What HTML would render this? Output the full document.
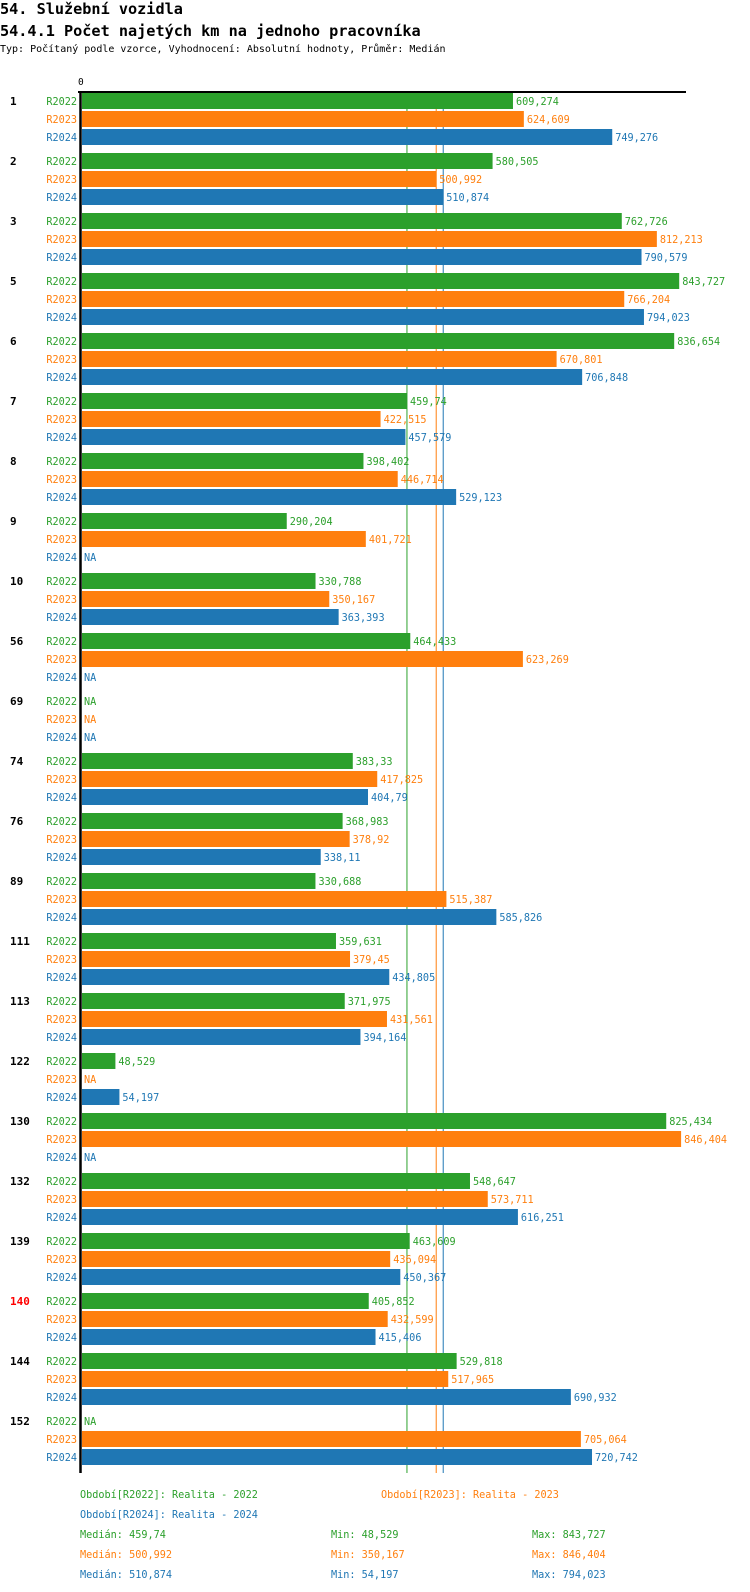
<!DOCTYPE html>
<html><head><meta charset="utf-8">
<style>
html,body{margin:0;padding:0;background:#fff;width:750px;height:1592px;overflow:hidden}
.t{position:absolute;white-space:nowrap;font-family:"DejaVu Sans Mono","Liberation Mono",monospace}
</style></head>
<body>
<div class="t" style="left:0;top:0px;font-size:15.2px;font-weight:bold">54. Služební vozidla</div>
<div class="t" style="left:0;top:22px;font-size:15.2px;font-weight:bold">54.4.1 Počet najetých km na jednoho pracovníka</div>
<div class="t" style="left:0;top:44px;font-size:10px">Typ: Počítaný podle vzorce, Vyhodnocení: Absolutní hodnoty, Průměr: Medián</div>
<svg id="chart" width="750" height="1592" style="position:absolute;left:0;top:0"></svg>
<script>
const groups=["1","2","3","5","6","7","8","9","10","56","69","74","76","89","111","113","122","130","132","139","140","144","152"];
const r2022=[609.274,580.505,762.726,843.727,836.654,459.74,398.402,290.204,330.788,464.433,null,383.33,368.983,330.688,359.631,371.975,48.529,825.434,548.647,463.609,405.852,529.818,null];
const r2023=[624.609,500.992,812.213,766.204,670.801,422.515,446.714,401.721,350.167,623.269,null,417.825,378.92,515.387,379.45,431.561,null,846.404,573.711,436.094,432.599,517.965,705.064];
const r2024=[749.276,510.874,790.579,794.023,706.848,457.579,529.123,null,363.393,null,null,404.79,338.11,585.826,434.805,394.164,54.197,null,616.251,450.367,415.406,690.932,720.742];
const seriesNames=["R2022","R2023","R2024"];
const colors=["#2ca02c","#ff7f0e","#1f77b4"];
const medians=[459.74,500.992,510.874];
const mins=[48.529,350.167,54.197];
const maxs=[843.727,846.404,794.023];
const highlight="140";

const NS="http://www.w3.org/2000/svg";
const svg=document.getElementById('chart');
const X0=81, K=0.709;
const x=v=>X0+v*K;
const yRow=(g,s)=>101+g*60+s*18;
const fmt=v=>String(v).replace('.',',');
function mk(tag,attrs,parent){const e=document.createElementNS(NS,tag);for(const k in attrs)e.setAttribute(k,attrs[k]);(parent||svg).appendChild(e);return e;}
function txt(s,attrs){const e=mk('text',Object.assign({'font-family':'DejaVu Sans Mono, Liberation Mono, monospace','font-size':'10.2'},attrs));e.textContent=s;return e;}

const series=[r2022,r2023,r2024];
medians.forEach((m,i)=>{
  const l=mk('line',{x1:x(m),x2:x(m),y1:92,y2:1473,stroke:colors[i],'stroke-width':1});
  
  
});
groups.forEach((g,gi)=>{
  const gl=txt(g,{x:10,y:yRow(gi,0)+4,'font-weight':'bold','font-size':'11',fill:g===highlight?'#ff0000':'#000'});
  
  
  series.forEach((arr,si)=>{
    const cy=yRow(gi,si);
    const sl=txt(seriesNames[si],{x:77,y:cy+4,'text-anchor':'end',fill:colors[si]});
    
    
    const v=arr[gi];
    if(v===null){
      const na=txt('NA',{x:84,y:cy+4,fill:colors[si]});
      
      
    }else{
      const b=mk('rect',{x:X0+1,y:cy-8,width:x(v)-X0-1,height:16,fill:colors[si]});
      
      
      const vl=txt(fmt(v),{x:x(v)+3,y:cy+4,fill:colors[si]});
      
      
    }
  });
});
const ax=mk('line',{x1:78,x2:686,y1:92,y2:92,stroke:'#000','stroke-width':2});


const ay=mk('line',{x1:80.5,x2:80.5,y1:91,y2:1473,stroke:'#000','stroke-width':2.5});


const z=txt('0',{x:78,y:85,fill:'#000','font-size':'9.5'});


const legPos=[[80,1498],[381,1498],[80,1518]];
seriesNames.forEach((n,i)=>{
  const t=txt('Období['+n+']: Realita - '+n.slice(1),{x:legPos[i][0],y:legPos[i][1],fill:colors[i]});
  
  
  const yy=1538+i*20;
  const a=txt('Medián: '+fmt(medians[i]),{x:80,y:yy,fill:colors[i]});
  
  
  const b=txt('Min: '+fmt(mins[i]),{x:331,y:yy,fill:colors[i]});
  
  
  const c=txt('Max: '+fmt(maxs[i]),{x:532,y:yy,fill:colors[i]});
  
  
});
</script>
</body></html>
